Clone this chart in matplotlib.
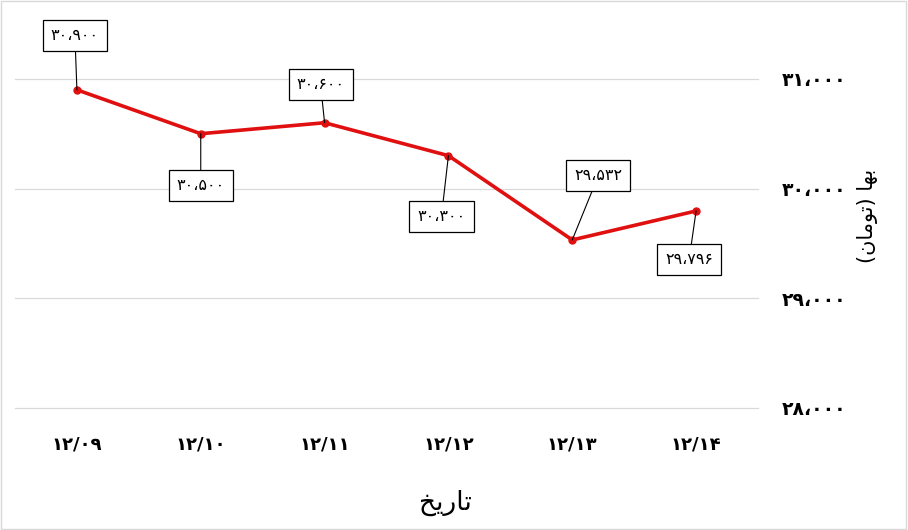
import matplotlib
matplotlib.use("Agg")
import matplotlib.pyplot as plt
from matplotlib.patches import Rectangle

plt.rcParams['font.family'] = ['DejaVu Sans']

# data
dates = ['12/09', '12/10', '12/11', '12/12', '12/13', '12/14']
prices = [30900, 30500, 30600, 30300, 29532, 29796]
yticks = [28000, 29000, 30000, 31000]

# label offsets in pixels (dx, dy)
offsets = [(-2, 54), (0, -52), (-4, 38), (-7, -61), (26, 64), (-7, -49)]

# shaped arabic text, visual order (matplotlib has no bidi/shaping)
xlabel_txt = '\uFEA6\uFEF3\uFEAD\uFE8E\uFE97'  # تاریخ
ylabel_txt = '(\uFEE5\uFE8E\uFEE3\uFEEE\uFE97) \uFE8E\uFEEC\uFE91'  # بها (تومان)

fa = str.maketrans('0123456789', '۰۱۲۳۴۵۶۷۸۹')


def fa_num(v):
    return f'{v:,}'.replace(',', '،').translate(fa)


fig = plt.figure(figsize=(9.08, 5.30), dpi=100)
ax = fig.add_axes([15 / 908, 1 - 408 / 530, (758 - 15) / 908, (408 - 24) / 530])

x = list(range(len(dates)))
ax.plot(x, prices, color='#E01010', lw=2.6, marker='o', ms=5, zorder=3)

for i, v in enumerate(prices):
    dx, dy = offsets[i]
    ax.annotate(fa_num(v), (i, v), xytext=(dx, dy), textcoords='offset pixels',
                ha='center', va='center', fontsize=11.5,
                bbox=dict(boxstyle='square,pad=0.5', fc='white', ec='black', lw=0.9),
                arrowprops=dict(arrowstyle='-', color='black', lw=0.8,
                                shrinkA=0, shrinkB=0), zorder=4)

ax.set_xlim(-0.5, len(dates) - 0.5)
ax.set_ylim(28000, 31500)
ax.set_xticks(x)
ax.set_xticklabels([d.translate(fa) for d in dates], fontsize=13, fontweight='bold')
ax.set_yticks(yticks)
ax.set_yticklabels([fa_num(t) for t in yticks], fontsize=13.5, fontweight='bold')
ax.yaxis.tick_right()
ax.yaxis.set_label_position('right')
ax.tick_params(length=0, pad=17)
ax.tick_params(axis='x', pad=20)
ax.grid(axis='y', color='#d9d9d9', lw=0.9)
for gl in ax.get_ygridlines():
    gl.set_clip_on(False)
ax.set_axisbelow(True)
for s in ax.spines.values():
    s.set_visible(False)

ax.set_ylabel(ylabel_txt, fontsize=15, rotation=90, labelpad=8)
fig.text(445 / 908, 1 - 503 / 530, xlabel_txt, fontsize=19, ha='center', va='center')

fig.patches.append(Rectangle((0.001, 0.001), 0.997, 0.997, transform=fig.transFigure,
                             fill=False, ec='#d9d9d9', lw=1))

fig.savefig('out.png', dpi=100)
